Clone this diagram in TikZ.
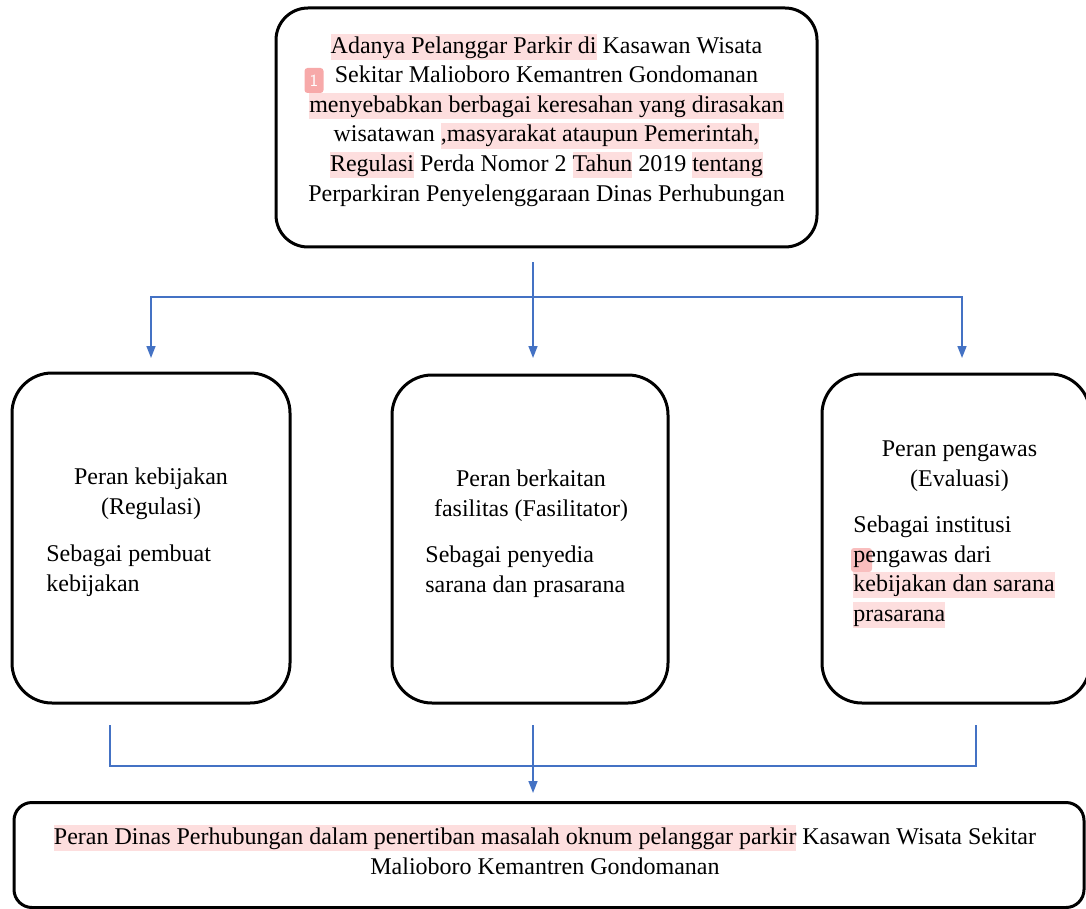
\documentclass[tikz,border=0pt]{standalone}
\usepackage{fontspec}
\setmainfont{Liberation Serif}
\usetikzlibrary{arrows.meta}
\usetikzlibrary{positioning}
\definecolor{linkblue}{HTML}{4472C4}
\definecolor{markpink}{HTML}{FDDEDE}
\definecolor{badgepink}{HTML}{F7A9A9}
% highlighted words
\newcommand{\mrk}[1]{{\setlength{\fboxsep}{0pt}\colorbox{markpink}{\rule[-3.3pt]{0pt}{13pt}#1}}}
\tikzset {
  % rounded frame of a block
  block/.style = {
    draw = black,
    line width = 1.5pt,
    rounded corners = 20pt,
    inner sep = 0
  },
  % centred text lines
  head/.style = {
    align = center,
    inner sep = 0,
    font = \fontsize{12}{14.8}\selectfont
  },
  % left aligned text lines
  body/.style = {
    head,
    align = left,
    anchor = west
  },
  % small comment marker
  badge/.style = {
    fill = badgepink,
    rounded corners = 1.5pt,
    minimum width = 9.5pt,
    minimum height = 12.5pt,
    inner sep = 0,
    text = white,
    font = \sffamily\fontsize{8.5}{9}\selectfont
  }
}
\tikzset {
  % connector without tip
  nlink/.style = {
    draw = linkblue,
    line width = 0.8pt
  },
  % connector with tip
  link/.style = {
    nlink,
    -{Triangle[width=4.5pt,length=6pt]}
  }
}

\begin{document}
\begin{tikzpicture}[x=0.5pt, y=-0.5pt]
    \useasboundingbox (0,0) rectangle (1086,909);

    % blocks
    \node[block, rounded corners=16pt, minimum width=270.5pt, minimum height=119.5pt] (problem) at (546.5,127.5) {};
    \node[block, minimum width=139pt, minimum height=165pt] (kebijakan) at (151,538) {};
    \node[block, minimum width=138pt, minimum height=164pt] (fasilitas) at (530,539) {};
    \node[block, minimum width=134pt, minimum height=164.5pt] (pengawas) at (956,538.5) {};
    \node[block, rounded corners=9pt, minimum width=535pt, minimum height=52.5pt] (peran) at (549,855) {};

    % texts
    \node[head] (problem-text) at (546.5,120) {\mrk{Adanya Pelanggar Parkir di} Kasawan Wisata\\
      Sekitar Malioboro Kemantren Gondomanan\\
      \mrk{menyebabkan berbagai keresahan yang dirasakan}\\
      wisatawan \mrk{,masyarakat ataupun Pemerintah,}\\
      \mrk{Regulasi} Perda Nomor 2 \mrk{Tahun} 2019 \mrk{tentang}\\
      Perparkiran Penyelenggaraan Dinas Perhubungan};
    \node[badge] (problem-badge) at (314,80.5) {1};

    \node[head] (kebijakan-head) at (151,494) {Peran kebijakan\\(Regulasi)};
    \node[body] (kebijakan-body) at (46,571) {Sebagai pembuat\\kebijakan};

    \node[head] (fasilitas-head) at (531,496) {Peran berkaitan\\fasilitas (Fasilitator)};
    \node[body] (fasilitas-body) at (425,572) {Sebagai penyedia\\sarana dan prasarana};

    \node[badge, fill=badgepink!75, minimum width=10.5pt, minimum height=12pt] (pengawas-badge) at (861.5,560) {};
    \node[head] (pengawas-head) at (959.5,466) {Peran pengawas\\(Evaluasi)};
    \node[body] (pengawas-body) at (853,572) {Sebagai institusi\\pengawas dari\\
      \mrk{kebijakan dan sarana}\\\mrk{prasarana}};

    \node[head] (peran-text) at (545,850) {\mrk{Peran Dinas Perhubungan dalam penertiban masalah oknum pelanggar parkir} Kasawan Wisata Sekitar\\
      Malioboro Kemantren Gondomanan};

    % connectors
    \coordinate (problem-out) at (533,262);
    \coordinate (fork) at (533,297);
    \coordinate (kebijakan-in) at (151,358);
    \coordinate (fasilitas-in) at (533,358);
    \coordinate (pengawas-in) at (962,358);
    \coordinate (kebijakan-out) at (110,725);
    \coordinate (fasilitas-out) at (533,725);
    \coordinate (pengawas-out) at (976,725);
    \coordinate (join) at (533,766);
    \coordinate (peran-in) at (533,793);

    \draw[link] (problem-out) -- (fasilitas-in);
    \draw[link] (fork) -| (kebijakan-in);
    \draw[link] (fork) -| (pengawas-in);
    \draw[nlink] (kebijakan-out) |- (join) -| (pengawas-out);
    \draw[link] (fasilitas-out) -- (peran-in);
  \end{tikzpicture}
\end{document}
